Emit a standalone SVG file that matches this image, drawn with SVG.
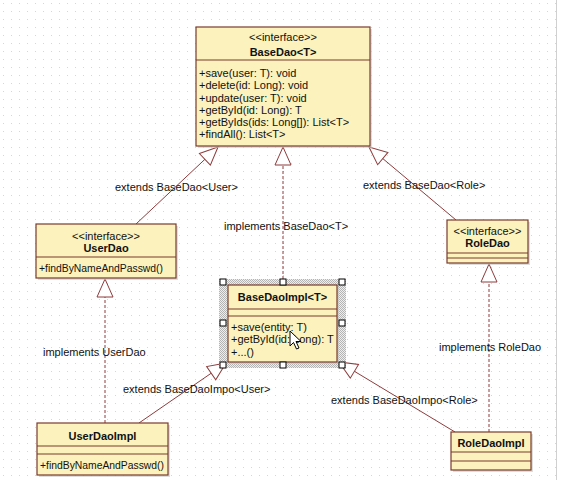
<svg xmlns="http://www.w3.org/2000/svg" width="576" height="490" viewBox="0 0 576 490">
<defs>
<pattern id="grid" width="8" height="8" patternUnits="userSpaceOnUse">
<rect x="3" y="3" width="1" height="1" fill="#d6d6d6"/>
</pattern>
<pattern id="hatch" width="2" height="2" patternUnits="userSpaceOnUse">
<rect width="2" height="2" fill="#eeeeee"/>
<rect width="1" height="1" fill="#b4b4b4"/>
<rect x="1" y="1" width="1" height="1" fill="#b4b4b4"/>
</pattern>
<marker id="tri" viewBox="-20 -10 22 20" refX="0" refY="0" markerWidth="22" markerHeight="20" markerUnits="userSpaceOnUse" orient="auto">
<path d="M0,0 L-18,-8 L-18,8 Z" fill="#ffffff" stroke="#8e3b3b" stroke-width="1"/>
</marker>
</defs>
<style>
.box{fill:#fcf2bd;stroke:#7b3a2c;stroke-width:1.2}
.shadow{fill:#c8c8c8;opacity:0.6}
.div{stroke:#7b3a2c;stroke-width:1}
.t{font-family:"Liberation Sans",Arial,sans-serif;font-size:11px;fill:#111}
.b{font-weight:bold}
.m{text-anchor:middle}
.ln{stroke:#8e3b3b;stroke-width:1;fill:none}
.dash{stroke-dasharray:3 2}
.h{fill:#ffffff;stroke:#000;stroke-width:1}
</style>
<rect width="576" height="490" fill="#ffffff"/>
<rect x="0" y="0" width="556" height="480" fill="url(#grid)"/>
<line x1="556.5" y1="0" x2="556.5" y2="480" stroke="#d0d0d0"/>

<g id="connectors">
<line class="ln" x1="136" y1="224" x2="218" y2="147" marker-end="url(#tri)"/>
<line class="ln dash" x1="283" y1="279" x2="283" y2="147" marker-end="url(#tri)"/>
<line class="ln" x1="456" y1="220" x2="369" y2="147" marker-end="url(#tri)"/>
<line class="ln dash" x1="105" y1="423" x2="105" y2="279" marker-end="url(#tri)"/>
<line class="ln" x1="139" y1="423" x2="226" y2="363" marker-end="url(#tri)"/>
<line class="ln" x1="455" y1="432" x2="339" y2="362" marker-end="url(#tri)"/>
<line class="ln dash" x1="489" y1="432" x2="489" y2="264" marker-end="url(#tri)"/>
<text class="t" x="115" y="191">extends BaseDao&lt;User&gt;</text>
<text class="t" x="224" y="230">implements BaseDao&lt;T&gt;</text>
<text class="t" x="363" y="189">extends BaseDao&lt;Role&gt;</text>
<text class="t" x="43" y="356">implements UserDao</text>
<text class="t" x="123" y="393">extends BaseDaoImpo&lt;User&gt;</text>
<text class="t" x="331" y="404">extends BaseDaoImpo&lt;Role&gt;</text>
<text class="t" x="439" y="351">implements RoleDao</text>
</g>

<g id="BaseDao">
<rect class="shadow" x="198" y="29" width="174" height="119"/>
<rect class="box" x="196" y="27" width="174" height="119"/>
<line class="div" x1="196" y1="60" x2="370" y2="60"/>
<text class="t m" x="283" y="41">&lt;&lt;interface&gt;&gt;</text>
<text class="t m b" x="283" y="56">BaseDao&lt;T&gt;</text>
<text class="t" x="199" y="77">+save(user: T): void</text>
<text class="t" x="199" y="89">+delete(id: Long): void</text>
<text class="t" x="199" y="101.5">+update(user: T): void</text>
<text class="t" x="199" y="113.5">+getById(id: Long): T</text>
<text class="t" x="199" y="126">+getByIds(ids: Long[]): List&lt;T&gt;</text>
<text class="t" x="199" y="138">+findAll(): List&lt;T&gt;</text>
</g>

<g id="UserDao">
<rect class="shadow" x="38" y="226" width="140" height="54"/>
<rect class="box" x="36" y="224" width="140" height="54"/>
<line class="div" x1="36" y1="257" x2="176" y2="257"/>
<text class="t m" x="106" y="240">&lt;&lt;interface&gt;&gt;</text>
<text class="t m b" x="106" y="252">UserDao</text>
<text class="t" x="39" y="272" textLength="124" lengthAdjust="spacingAndGlyphs">+findByNameAndPasswd()</text>
</g>

<g id="RoleDao">
<rect class="shadow" x="449" y="222" width="81" height="43"/>
<rect class="box" x="447" y="220" width="81" height="43"/>
<line class="div" x1="447" y1="253" x2="528" y2="253"/>
<line class="div" x1="447" y1="258" x2="528" y2="258"/>
<text class="t m" x="487.5" y="235">&lt;&lt;interface&gt;&gt;</text>
<text class="t m b" x="487.5" y="247">RoleDao</text>
</g>

<g id="BaseDaoImpl">
<rect x="219" y="279" width="127" height="89" fill="url(#hatch)"/>
<rect class="shadow" x="230" y="287" width="109" height="77"/>
<rect class="box" x="228" y="285" width="109" height="77"/>
<line class="div" x1="228" y1="309" x2="337" y2="309"/>
<line class="div" x1="228" y1="316" x2="337" y2="316"/>
<text class="t m b" x="282.5" y="301">BaseDaoImpl&lt;T&gt;</text>
<text class="t" x="231" y="331">+save(entity: T)</text>
<text class="t" x="231" y="343">+getById(id: Long): T</text>
<text class="t" x="231" y="356">+...()</text>
<rect class="h" x="220" y="279" width="6" height="6"/>
<rect class="h" x="280" y="279" width="6" height="6"/>
<rect class="h" x="339" y="279" width="6" height="6"/>
<rect class="h" x="220" y="320" width="6" height="6"/>
<rect class="h" x="339" y="320" width="6" height="6"/>
<rect class="h" x="220" y="362" width="6" height="6"/>
<rect class="h" x="280" y="362" width="6" height="6"/>
<rect class="h" x="339" y="362" width="6" height="6"/>
<path d="M290,331 L290,346 L293.5,342.5 L296.5,349 L299,348 L296,341.5 L301,341.5 Z" fill="#ffffff" stroke="#000" stroke-width="1"/>
</g>

<g id="UserDaoImpl">
<rect class="shadow" x="39" y="425" width="131" height="52"/>
<rect class="box" x="37" y="423" width="131" height="52"/>
<line class="div" x1="37" y1="446" x2="168" y2="446"/>
<line class="div" x1="37" y1="454" x2="168" y2="454"/>
<text class="t m b" x="102.5" y="440">UserDaoImpl</text>
<text class="t" x="40" y="469" textLength="124" lengthAdjust="spacingAndGlyphs">+findByNameAndPasswd()</text>
</g>

<g id="RoleDaoImpl">
<rect class="shadow" x="453" y="434" width="80" height="38"/>
<rect class="box" x="451" y="432" width="80" height="38"/>
<line class="div" x1="451" y1="452" x2="531" y2="452"/>
<line class="div" x1="451" y1="461" x2="531" y2="461"/>
<text class="t m b" x="491" y="447">RoleDaoImpl</text>
</g>
</svg>
